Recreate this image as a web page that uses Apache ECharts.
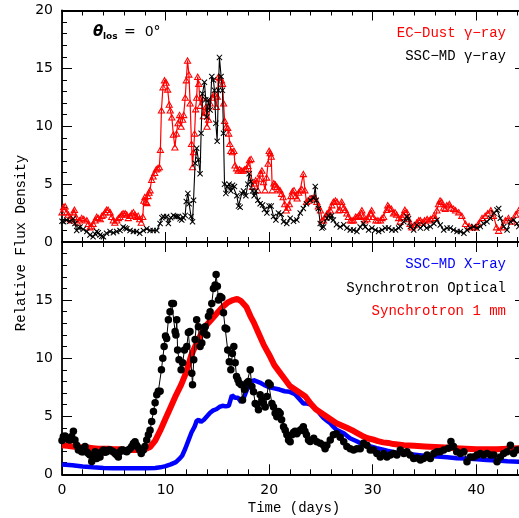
<!DOCTYPE html>
<html><head><meta charset="utf-8">
<script src="https://cdn.jsdelivr.net/npm/echarts/dist/echarts.min.js"></script>
<style>html,body{margin:0;padding:0;background:#fff}#c{width:519px;height:518px}</style>
</head><body><div id="c"></div>
<script>
// ---- data: [day, relative flux] ----
const ecDustGamma = [[0,2.6],[0.15,3.05],[0.3,3.1],[0.45,2.6],[0.6,2.4],[0.8,2.0],[0.95,1.9],[1.1,2.6],[1.2,2.8],[1.35,2.2],[1.5,1.7],[1.7,1.9],[1.9,2.1],[2.1,2.0],[2.4,1.9],[2.55,1.6],[2.7,1.3],[2.85,1.4],[3,1.6],[3.2,1.9],[3.35,2.2],[3.5,2.1],[3.7,2.0],[3.85,2.3],[4,2.4],[4.15,2.6],[4.3,2.8],[4.45,2.8],[4.65,2.6],[4.8,2.2],[4.95,1.9],[5.1,1.7],[5.3,1.9],[5.45,2.1],[5.6,2.2],[5.75,2.4],[5.9,2.5],[6.1,2.5],[6.25,2.4],[6.4,2.1],[6.57,2.3],[6.75,2.5],[6.9,2.6],[7.05,2.4],[7.2,2.2],[7.35,2.3],[7.5,2.0],[7.65,1.7],[7.8,2.2],[7.9,3.6],[8,3.9],[8.1,3.5],[8.2,3.4],[8.3,4.0],[8.4,4.3],[8.5,4.5],[8.65,5.4],[8.8,5.7],[8.95,6.0],[9.1,6.3],[9.25,6.4],[9.4,6.5],[9.5,8.0],[9.6,11.4],[9.75,13.4],[9.9,14.0],[10.05,13.8],[10.2,13.2],[10.35,11.9],[10.45,11.4],[10.6,10.8],[10.75,9.3],[10.9,8.2],[11.05,9.4],[11.2,10.3],[11.35,11.0],[11.5,10.0],[11.65,10.6],[11.75,11.0],[11.9,12.5],[12,14.0],[12.12,15.7],[12.25,14.5],[12.37,12.0],[12.5,8.5],[12.6,6.5],[12.7,7.8],[12.8,9.4],[12.9,11.5],[13,12.5],[13.1,14.3],[13.2,13.7],[13.35,11.8],[13.5,12.5],[13.65,10.9],[13.8,11.3],[13.9,11.7],[14,10.0],[14.15,10.6],[14.3,12.0],[14.5,12.5],[14.7,12.8],[14.9,11.7],[15,12.6],[15.1,14.3],[15.25,14.2],[15.4,14.0],[15.5,13.7],[15.6,12.0],[15.7,10.5],[15.85,10.0],[16,9.9],[16.1,9.4],[16.2,8.5],[16.3,7.9],[16.45,7.8],[16.6,7.9],[16.7,6.65],[16.85,6.4],[17,6.2],[17.15,6.3],[17.3,6.2],[17.5,6.2],[17.65,6.3],[17.8,6.35],[17.95,6.6],[18.1,7.1],[18.25,7.2],[18.4,4.8],[18.55,5.1],[18.7,5.35],[18.9,4.5],[19.05,5.5],[19.15,5.95],[19.3,6.2],[19.45,5.2],[19.6,4.5],[19.75,5.6],[19.9,6.8],[20,7.9],[20.1,7.7],[20.2,7.4],[20.3,4.5],[20.45,5.1],[20.6,5.0],[20.75,4.8],[20.9,4.6],[21.05,4.5],[21.2,4.2],[21.35,3.9],[21.5,3.3],[21.65,2.76],[21.8,3.0],[21.95,3.3],[22.1,4.0],[22.25,4.4],[22.4,4.5],[22.55,4.0],[22.7,3.8],[22.85,4.3],[23,4.5],[23.15,4.6],[23.3,5.9],[23.45,4.5],[23.6,3.5],[23.8,3.6],[23.95,3.8],[24.2,3.8],[24.4,3.9],[24.6,3.5],[24.75,3.1],[24.95,2.76],[25.1,1.9],[25.25,1.9],[25.4,2.2],[25.6,2.5],[25.75,2.6],[25.9,2.76],[26.05,3.2],[26.2,3.5],[26.4,3.6],[26.55,3.5],[26.7,2.76],[26.85,2.8],[27,3.5],[27.2,3.0],[27.35,2.8],[27.5,2.5],[27.65,2.2],[27.85,1.9],[28,1.9],[28.15,1.9],[28.35,2.2],[28.5,2.2],[28.65,2.3],[28.8,2.2],[28.95,2.76],[29.1,2.3],[29.25,1.9],[29.45,2.0],[29.6,2.2],[29.75,2.5],[29.9,2.76],[30.05,2.2],[30.3,1.9],[30.5,1.9],[30.75,1.9],[30.9,2.1],[31.05,2.2],[31.35,2.8],[31.45,3.2],[31.6,3.0],[31.8,2.9],[32,2.5],[32.15,2.6],[32.3,2.4],[32.5,2.1],[32.65,1.8],[32.8,2.2],[32.95,2.4],[33.1,2.8],[33.3,2.6],[33.45,2.0],[33.6,1.6],[33.8,1.3],[34,1.5],[34.25,1.7],[34.45,1.9],[34.6,1.9],[34.8,1.7],[35,1.9],[35.25,2.0],[35.45,1.9],[35.6,2.0],[35.9,2.3],[36.05,2.1],[36.2,2.76],[36.35,3.3],[36.5,3.6],[36.65,3.5],[36.85,3.0],[37,2.9],[37.15,3.2],[37.4,3.3],[37.55,3.0],[37.8,2.9],[38,2.76],[38.3,2.6],[38.6,2.3],[38.95,1.6],[39.3,1.4],[39.6,1.3],[39.9,1.3],[40.2,1.6],[40.55,2.1],[40.85,2.3],[41.1,2.5],[41.4,2.76],[41.65,2.3],[41.95,1.3],[42.15,1.0],[42.5,1.3],[42.8,1.9],[43.1,2.1],[43.45,1.8],[43.8,2.4],[44.1,2.76]];

const sscGamma = [[0,1.8],[0.15,1.75],[0.45,1.9],[0.75,1.8],[1.1,2.0],[1.25,1.6],[1.42,1.0],[1.6,1.2],[1.74,1.3],[2.05,1.1],[2.4,0.9],[2.7,0.6],[3,0.45],[3.2,0.7],[3.35,0.9],[3.5,0.8],[3.67,0.6],[3.85,0.5],[4,0.45],[4.3,0.75],[4.64,0.9],[4.96,0.8],[5.28,0.9],[5.6,1.0],[5.9,1.3],[6.1,1.2],[6.25,1.15],[6.57,1.0],[6.89,0.9],[7.2,0.9],[7.5,0.75],[7.86,1.0],[8.18,1.15],[8.5,1.0],[8.8,1.0],[9.15,1.0],[9.47,1.6],[9.65,2.1],[9.8,2.2],[10.1,2.2],[10.27,1.6],[10.5,2.1],[10.76,2.3],[10.92,2.2],[11.08,2.2],[11.24,2.2],[11.4,2.0],[11.56,1.9],[11.72,2.1],[11.89,2.3],[12,3.5],[12.15,4.2],[12.27,3.3],[12.46,2.2],[12.6,1.75],[12.7,3.6],[12.85,6.8],[13,8.1],[13.17,7.1],[13.33,5.9],[13.43,9.4],[13.56,12.8],[13.75,13.8],[13.88,12.3],[13.98,10.8],[14.14,12.3],[14.3,11.4],[14.46,14.3],[14.62,14.0],[14.72,13.1],[14.85,10.25],[14.98,8.7],[15.1,13.1],[15.2,15.95],[15.36,14.3],[15.49,13.1],[15.59,9.4],[15.69,5.0],[15.82,4.2],[15.98,4.8],[16.14,5.0],[16.3,4.4],[16.46,4.9],[16.65,4.8],[16.88,4.0],[17.04,3.1],[17.2,3.0],[17.36,4.2],[17.52,4.4],[17.75,4.0],[17.94,5.0],[18.07,5.9],[18.23,5.2],[18.39,4.4],[18.55,4.0],[18.71,4.4],[18.91,3.6],[19.13,3.3],[19.36,3.2],[19.55,2.8],[19.78,2.5],[20,3.1],[20.2,3.1],[20.42,2.2],[20.65,1.9],[20.9,2.5],[21.16,2.4],[21.39,1.75],[21.7,1.6],[22.03,2.05],[22.35,1.8],[22.67,1.9],[23,2.5],[23.3,2.9],[23.6,3.3],[23.96,3.6],[24.3,3.8],[24.45,4.8],[24.55,3.6],[24.75,2.9],[24.93,1.6],[25.1,1.2],[25.25,1.3],[25.57,2.05],[25.73,2.3],[25.9,2.05],[26.05,2.3],[26.2,1.9],[26.5,1.5],[26.86,1.3],[27.2,1.5],[27.5,1.2],[27.83,1.04],[28.15,1.04],[28.47,0.9],[28.79,1.3],[29.1,1.6],[29.27,1.3],[29.6,1.04],[29.92,1.2],[30.25,1.04],[30.57,0.9],[30.9,1.04],[31.2,1.2],[31.53,1.2],[31.85,1.04],[32.2,1.04],[32.5,1.2],[32.66,1.33],[33,1.76],[33.3,2.2],[33.45,2.0],[33.63,1.33],[33.95,1.04],[34.27,1.47],[34.6,1.2],[34.9,1.47],[35.2,1.2],[35.56,1.33],[35.9,1.6],[36.2,1.9],[36.52,1.47],[36.85,1.04],[37.17,1.2],[37.49,1.2],[37.8,1.04],[38.14,0.9],[38.46,0.9],[38.8,0.75],[39.1,1.04],[39.42,1.2],[39.75,1.33],[40.07,1.2],[40.39,1.33],[40.7,1.6],[41.03,1.76],[41.36,2.05],[41.7,2.5],[42,2.76],[42.16,2.9],[42.32,2.05],[42.65,1.33],[42.97,1.04],[43.29,1.76],[43.6,1.9],[43.93,1.6],[44.1,1.33]];

const syncOptical = [[0,2.9],[0.13,3.25],[0.3,3.3],[0.45,3.1],[0.6,3.0],[0.77,2.96],[0.93,3.25],[1.1,3.7],[1.25,2.96],[1.42,2.5],[1.58,2.1],[1.74,2.2],[1.9,1.95],[2.06,1.95],[2.22,2.4],[2.38,1.95],[2.55,1.8],[2.7,1.66],[2.87,1.1],[3,1.5],[3.2,1.95],[3.35,1.35],[3.5,1.66],[3.67,1.5],[3.83,1.95],[4,2.1],[4.15,1.9],[4.3,1.95],[4.5,2.1],[4.64,2.1],[4.8,2.0],[4.96,1.95],[5.12,1.8],[5.28,1.66],[5.44,1.5],[5.6,1.95],[5.75,2.1],[5.9,2.1],[6.1,2.0],[6.25,1.95],[6.4,2.1],[6.57,2.2],[6.73,2.4],[6.89,2.65],[7.05,2.8],[7.2,2.5],[7.35,2.3],[7.5,2.1],[7.65,1.8],[7.86,2.1],[8,2.4],[8.18,2.96],[8.34,3.4],[8.5,3.8],[8.66,4.55],[8.83,5.4],[8.99,6.15],[9.15,6.85],[9.3,7.15],[9.47,7.15],[9.6,9.0],[9.73,10.0],[9.86,11.0],[9.99,11.9],[10.1,11.7],[10.27,13.3],[10.43,14.0],[10.6,14.7],[10.76,14.7],[10.92,12.3],[11,12.0],[11.08,13.3],[11.16,10.7],[11.3,9.87],[11.5,9.0],[11.65,9.6],[11.82,10.7],[12.05,11.0],[12.2,12.2],[12.36,12.3],[12.53,8.7],[12.6,7.7],[12.72,9.87],[12.85,11.6],[13,13.3],[13.17,12.7],[13.33,11.0],[13.5,11.3],[13.66,12.2],[13.82,12.7],[13.98,12.0],[14.14,13.6],[14.3,14.0],[14.46,14.7],[14.62,16.0],[14.78,16.3],[14.88,17.2],[15,16.2],[15.1,15.0],[15.27,15.3],[15.43,15.2],[15.59,13.9],[15.75,12.6],[15.9,12.5],[16,10.7],[16.15,9.7],[16.3,9.0],[16.45,10.4],[16.59,11.0],[16.72,9.6],[16.85,8.43],[16.98,8.15],[17.1,7.86],[17.3,7.7],[17.43,6.4],[17.62,7.3],[17.84,7.86],[18,8.0],[18.17,9.0],[18.33,7.56],[18.49,7.1],[18.65,6.1],[18.81,6.0],[18.97,5.55],[19.13,6.85],[19.29,6.4],[19.45,6.1],[19.62,5.8],[19.78,6.7],[19.94,7.86],[20.1,7.7],[20.26,6.1],[20.42,5.8],[20.58,5.26],[20.74,4.96],[20.9,5.4],[21.06,5.26],[21.2,4.7],[21.39,4.1],[21.55,3.8],[21.71,3.4],[21.87,2.96],[22.03,2.8],[22.2,3.4],[22.35,3.6],[22.5,3.7],[22.67,3.5],[22.85,3.7],[23,3.8],[23.15,3.9],[23.3,4.1],[23.45,3.7],[23.6,3.4],[23.8,2.96],[23.96,2.82],[24.3,3.1],[24.6,2.8],[24.93,2.67],[25.25,2.5],[25.4,2.2],[25.57,2.5],[25.9,2.96],[26.2,3.4],[26.5,3.5],[26.86,3.2],[27.2,2.8],[27.5,2.4],[27.83,2.2],[28.15,2.1],[28.47,2.2],[28.79,2.2],[29.1,2.67],[29.44,2.5],[29.76,2.1],[30.08,2.1],[30.4,1.8],[30.73,1.5],[31.05,1.8],[31.37,1.5],[31.7,1.66],[32,1.8],[32.33,1.66],[32.66,2.1],[33,1.8],[33.3,1.95],[33.6,1.66],[33.95,1.37],[34.3,1.4],[34.6,1.23],[34.9,1.37],[35.25,1.66],[35.56,1.37],[35.9,1.8],[36.2,1.95],[36.5,1.95],[36.85,2.1],[37.3,2.24],[37.55,2.82],[37.8,2.4],[38.1,1.95],[38.46,1.8],[38.8,1.95],[39.1,1.09],[39.42,1.5],[39.75,1.5],[40.07,1.66],[40.39,1.8],[40.7,1.66],[41.03,1.8],[41.36,1.66],[41.7,1.66],[42,1.09],[42.32,1.5],[42.64,1.8],[42.97,1.95],[43.29,2.5],[43.6,1.8],[43.93,2.1]];

const sync1mm = [[0,2.5],[0.5,2.45],[1,2.4],[1.5,2.35],[2,2.3],[2.5,2.3],[3,2.25],[3.5,2.2],[4,2.2],[4.5,2.2],[5,2.15],[5.5,2.15],[6,2.1],[6.5,2.1],[7,2.1],[7.5,2.1],[8,2.15],[8.5,2.35],[9,2.9],[9.5,3.8],[10,4.8],[10.5,5.8],[11,6.8],[11.5,7.7],[12,8.8],[12.5,10.3],[13,11.3],[13.5,12.2],[14,12.9],[14.5,13.4],[15,13.9],[15.5,14.4],[16,14.8],[16.5,15.0],[16.9,15.1],[17.3,14.9],[17.8,14.4],[18.2,13.6],[18.5,13.1],[19,12.1],[19.5,11.1],[20,10.3],[20.5,9.4],[21,8.8],[21.5,8.2],[22,7.6],[22.5,7.3],[23,7.0],[23.5,6.7],[24,6.1],[24.5,5.6],[25,5.3],[25.5,5.0],[26,4.7],[26.5,4.4],[27,4.2],[27.5,4.0],[28,3.8],[28.5,3.55],[29,3.3],[29.5,3.1],[30,3.0],[30.5,2.85],[31,2.75],[31.5,2.7],[32,2.6],[33,2.5],[34,2.45],[35,2.4],[36,2.35],[37,2.3],[38,2.25],[39,2.2],[40,2.15],[41,2.15],[42,2.15],[43,2.2],[44.1,2.25],[44.7,2.25]];

const sscXray = [[0,0.85],[1,0.78],[2,0.68],[3,0.6],[4,0.55],[5,0.52],[6,0.52],[7,0.52],[8,0.52],[9,0.55],[9.5,0.6],[10,0.7],[10.5,0.85],[11,1.05],[11.3,1.3],[11.6,1.6],[11.9,2.2],[12.2,2.9],[12.5,3.6],[12.8,4.1],[13,4.6],[13.2,4.7],[13.4,4.5],[13.7,4.7],[14,5.0],[14.3,5.3],[14.6,5.5],[14.9,5.6],[15.2,5.8],[15.5,5.9],[15.8,5.85],[16.1,5.9],[16.4,6.8],[16.7,6.6],[17,6.6],[17.3,6.2],[17.6,6.7],[17.9,7.4],[18.2,7.9],[18.5,8.1],[18.8,8.0],[19.1,7.9],[19.5,7.7],[20,7.5],[20.5,7.4],[21,7.3],[21.5,7.15],[22,7.1],[22.5,6.9],[23,6.4],[23.3,6.1],[23.6,6.1],[24,6.0],[24.3,5.8],[24.6,5.56],[25,5.1],[25.25,4.84],[25.6,4.6],[25.9,4.4],[26.2,4.1],[26.5,3.83],[27.2,3.54],[27.8,3.1],[28.5,2.82],[29.1,2.53],[29.8,2.39],[30.4,2.25],[31.4,2.04],[32.3,1.87],[33.3,1.76],[34.3,1.67],[35.2,1.58],[36.2,1.53],[37.2,1.47],[38.1,1.38],[39.1,1.35],[40.1,1.3],[41,1.24],[42,1.18],[43,1.12],[44.1,1.09],[44.7,1.07]];

const xMajorTicks = [0, 10, 20, 30, 40];
const yMajorTicks = [0, 5, 10, 15, 20];
const legendTop = ['EC\u2212Dust \u03b3\u2212ray', 'SSC\u2212MD \u03b3\u2212ray'];
const legendBottom = ['SSC\u2212MD X\u2212ray', 'Synchrotron Optical', 'Synchrotron 1 mm'];

// ---- chart ----
const XMAX = 44.7;
const TRI = 'path://M5,0 L10,9 L0,9 Z M5,2.8 L2.2,7.6 L7.8,7.6 Z';
const CROSS = 'path://M0,1.2 L1.2,0 L5,3.8 L8.8,0 L10,1.2 L6.2,5 L10,8.8 L8.8,10 L5,6.2 L1.2,10 L0,8.8 L3.8,5 Z';
const MONO = '"Liberation Mono", monospace';
const SANS = '"DejaVu Sans", sans-serif';

function xAx(g, pos, interval, len, line, labels) {
  return {type:'value', gridIndex:g, position:pos, min:0, max:XMAX, interval:interval,
    axisLine:{show:line, onZero:false, lineStyle:{color:'#000', width:1.8}},
    axisTick:{show:true, inside:true, length:len, lineStyle:{color:'#000', width:1}},
    axisLabel:{show:labels, margin:9, color:'#000', fontFamily:SANS, fontSize:14,
      formatter: v => xMajorTicks.indexOf(v) >= 0 ? String(v) : ''},
    splitLine:{show:false}};
}
function yAx(g, pos, interval, len, line, labels, hide20) {
  return {type:'value', gridIndex:g, position:pos, min:0, max:20, interval:interval,
    axisLine:{show:line, onZero:false, lineStyle:{color:'#000', width:1.8}},
    axisTick:{show:true, inside:true, length:len, lineStyle:{color:'#000', width:1}},
    axisLabel:{show:labels, margin:9, color:'#000', fontFamily:SANS, fontSize:14,
      formatter: v => (yMajorTicks.indexOf(v) >= 0 && !(hide20 && v === 20)) ? String(v) : ''},
    splitLine:{show:false}};
}

const chart = echarts.init(document.getElementById('c'), null, {renderer:'canvas'});
chart.setOption({
  animation:false,
  backgroundColor:'#fff',
  grid:[
    {left:62, right:-6, top:10.5, height:231.5, outerBoundsMode:'none', containLabel:false},
    {left:62, right:-6, top:242, height:232.3, outerBoundsMode:'none', containLabel:false}
  ],
  xAxis:[
    xAx(0,'bottom',10,10,true,false), xAx(0,'bottom',2,5,false,false),
    xAx(0,'top',10,10,true,false), xAx(0,'top',2,5,false,false),
    xAx(1,'bottom',10,10,true,true), xAx(1,'bottom',2,5,false,false),
    xAx(1,'top',10,10,true,false), xAx(1,'top',2,5,false,false)
  ],
  yAxis:[
    yAx(0,'left',5,10,true,true,false), yAx(0,'left',1,5,false,false,false),
    yAx(0,'right',5,10,true,false,false), yAx(0,'right',1,5,false,false,false),
    yAx(1,'left',5,10,true,true,true), yAx(1,'left',1,5,false,false,false),
    yAx(1,'right',5,10,true,false,false), yAx(1,'right',1,5,false,false,false)
  ],
  series:[
    {name:legendTop[0], type:'line', xAxisIndex:0, yAxisIndex:0, data:ecDustGamma,
      symbol:TRI, symbolSize:[8,7], showSymbol:true, lineStyle:{color:'#ff0000', width:1.2},
      itemStyle:{color:'#ff0000'}, z:2, silent:true},
    {name:legendTop[1], type:'line', xAxisIndex:0, yAxisIndex:0, data:sscGamma,
      symbol:CROSS, symbolSize:6, showSymbol:true, lineStyle:{color:'#000', width:1.1},
      itemStyle:{color:'#000'}, z:3, silent:true},
    {name:legendBottom[0], type:'line', xAxisIndex:4, yAxisIndex:4, data:sscXray,
      symbol:'none', lineStyle:{color:'#0000ff', width:4.5}, z:2, silent:true},
    {name:legendBottom[2], type:'line', xAxisIndex:4, yAxisIndex:4, data:sync1mm,
      symbol:'none', lineStyle:{color:'#ff0000', width:6}, z:3, silent:true},
    {name:legendBottom[1], type:'line', xAxisIndex:4, yAxisIndex:4, data:syncOptical,
      symbol:'circle', symbolSize:7.5, showSymbol:true, lineStyle:{color:'#000', width:1},
      itemStyle:{color:'#000'}, z:4, silent:true}
  ],
  graphic:[
    {type:'text', x:506, y:33, style:{text:legendTop[0], fill:'#ff0000', font:'14px '+MONO, align:'right', verticalAlign:'middle'}},
    {type:'text', x:506, y:56, style:{text:legendTop[1], fill:'#000', font:'14px '+MONO, align:'right', verticalAlign:'middle'}},
    {type:'text', x:506, y:264, style:{text:legendBottom[0], fill:'#0000ff', font:'14px '+MONO, align:'right', verticalAlign:'middle'}},
    {type:'text', x:506, y:288, style:{text:legendBottom[1], fill:'#000', font:'14px '+MONO, align:'right', verticalAlign:'middle'}},
    {type:'text', x:506, y:311, style:{text:legendBottom[2], fill:'#ff0000', font:'14px '+MONO, align:'right', verticalAlign:'middle'}},
    {type:'text', x:93, y:32, style:{text:'\u03b8', fill:'#000', font:'italic bold 15px '+SANS, align:'left', verticalAlign:'middle'}},
    {type:'text', x:103, y:37, style:{text:'los', fill:'#000', font:'bold 9px '+SANS, align:'left', verticalAlign:'middle'}},
    {type:'text', x:124, y:32, style:{text:'=  0\u00b0', fill:'#000', font:'14px '+SANS, align:'left', verticalAlign:'middle'}},
    {type:'text', x:294, y:508, style:{text:'Time (days)', fill:'#000', font:'14px '+MONO, align:'center', verticalAlign:'middle'}},
    {type:'text', x:21, y:243, rotation:Math.PI/2, style:{text:'Relative Flux Density', fill:'#000', font:'14px '+MONO, align:'center', verticalAlign:'middle'}}
  ]
});
</script></body></html>
